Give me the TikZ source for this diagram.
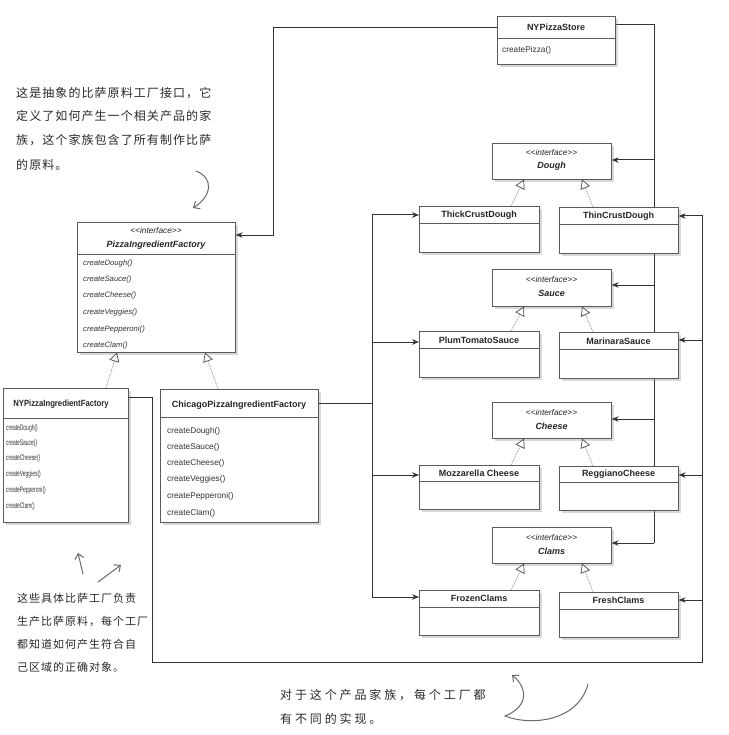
\documentclass[tikz,border=0pt]{standalone}
\usepackage{fontspec}
\setmainfont{Liberation Sans}
\newfontfamily\cjk{Noto Sans CJK SC}
\usetikzlibrary{arrows.meta,shadows}
\definecolor{linec}{HTML}{333333}
\definecolor{boxc}{HTML}{5A5A5A}
\definecolor{inkc}{HTML}{2A2A2A}
\definecolor{penc}{HTML}{6A6A6A}
\pgfdeclarelayer{bg}
\pgfdeclarelayer{paper}
\pgfsetlayers{paper,bg,main}
\newcommand\ifc{\mbox{<}\mbox{<}interface\mbox{>}\mbox{>}}
\begin{document}
\begin{tikzpicture}[x=1pt,y=-1pt,
  cls/.style={draw=boxc,line width=0.6pt,fill=white,inner sep=0pt,anchor=north west,
    drop shadow={shadow xshift=2.5pt,shadow yshift=-2.5pt,opacity=0.3}},
  divl/.style={draw=boxc,line width=0.5pt},
  ttl/.style={font=\fontsize{9}{10}\selectfont\bfseries,text=black!85,inner sep=0pt},
  iface/.style={font=\fontsize{8.3}{10}\selectfont\itshape,text=black!85,inner sep=0pt},
  iname/.style={font=\fontsize{9}{10}\selectfont\bfseries\itshape,text=black!85,inner sep=0pt},
  meth/.style={font=\fontsize{8.3}{10}\selectfont,text=black!80,anchor=west,inner sep=0pt},
  imeth/.style={font=\fontsize{7.7}{10}\selectfont\itshape,text=black!80,anchor=west,inner sep=0pt},
  nymeth/.style={font=\fontsize{8}{10}\selectfont,text=black!80,anchor=west,inner sep=0pt,xscale=0.62},
  conn/.style={draw=linec,line width=1pt,-{Stealth[length=7pt,width=5.5pt]}},
  wire/.style={draw=linec,line width=1pt},
  gen/.style={draw=black!45,densely dotted,line width=0.8pt,
    -{Triangle[open,length=9pt,width=10pt,color=black!70,line width=0.7pt]}},
  hand/.style={draw=penc,line width=1pt,line cap=round,-{Straight Barb[length=5pt,width=9pt]}},
  note/.style={font=\cjk\fontsize{12}{14}\selectfont\addfontfeature{LetterSpace=9},text=inkc,anchor=west,inner sep=0pt}]

\useasboundingbox (0,0) rectangle (728,735);
\begin{pgfonlayer}{paper}
\fill[white] (0,0) rectangle (728,735);
\end{pgfonlayer}

% ---------- class boxes ----------
\node[cls,minimum width=118pt,minimum height=48pt] (nystore) at (497,16) {};
\node[cls,minimum width=158pt,minimum height=130pt] (pif) at (77,222) {};
\node[cls,minimum width=125pt,minimum height=134pt] (nyif) at (3,388) {};
\node[cls,minimum width=158pt,minimum height=133pt] (chif) at (160,389) {};
\node[cls,minimum width=119pt,minimum height=36pt] (dough) at (492,143) {};
\node[cls,minimum width=120pt,minimum height=46pt] (thick) at (419,206) {};
\node[cls,minimum width=119pt,minimum height=46pt] (thin) at (559,207) {};
\node[cls,minimum width=119pt,minimum height=37pt] (sauce) at (492,269) {};
\node[cls,minimum width=120pt,minimum height=46pt] (plum) at (419,331) {};
\node[cls,minimum width=119pt,minimum height=46pt] (marinara) at (559,332) {};
\node[cls,minimum width=119pt,minimum height=36pt] (cheese) at (492,402) {};
\node[cls,minimum width=120pt,minimum height=44pt] (mozz) at (419,465) {};
\node[cls,minimum width=119pt,minimum height=44pt] (reggiano) at (559,466) {};
\node[cls,minimum width=119pt,minimum height=36pt] (clams) at (492,527) {};
\node[cls,minimum width=120pt,minimum height=45pt] (frozen) at (419,590) {};
\node[cls,minimum width=119pt,minimum height=45pt] (fresh) at (559,592) {};

% dividers
\draw[divl] (nystore.west |- 0,38) -- (nystore.east |- 0,38);
\draw[divl] (pif.west |- 0,254) -- (pif.east |- 0,254);
\draw[divl] (nyif.west |- 0,418) -- (nyif.east |- 0,418);
\draw[divl] (chif.west |- 0,417) -- (chif.east |- 0,417);
\draw[divl] (thick.west |- 0,223) -- (thick.east |- 0,223);
\draw[divl] (thin.west |- 0,224) -- (thin.east |- 0,224);
\draw[divl] (plum.west |- 0,348) -- (plum.east |- 0,348);
\draw[divl] (marinara.west |- 0,349) -- (marinara.east |- 0,349);
\draw[divl] (mozz.west |- 0,481) -- (mozz.east |- 0,481);
\draw[divl] (reggiano.west |- 0,482) -- (reggiano.east |- 0,482);
\draw[divl] (frozen.west |- 0,607) -- (frozen.east |- 0,607);
\draw[divl] (fresh.west |- 0,609) -- (fresh.east |- 0,609);

% titles
\node[ttl] (nystore-t) at (556,27) {NYPizzaStore};
\node[meth] (nystore-m) at (502,50) {createPizza()};

\node[iface] (pif-s) at (156,231) {\ifc};
\node[iname] (pif-t) at (156,245) {PizzaIngredientFactory};
\node[imeth] (pif-1) at (83,264) {createDough()};
\node[imeth] (pif-2) at (83,280) {createSauce()};
\node[imeth] (pif-3) at (83,296) {createCheese()};
\node[imeth] (pif-4) at (83,313) {createVeggies()};
\node[imeth] (pif-5) at (83,330) {createPepperoni()};
\node[imeth] (pif-6) at (83,346) {createClam()};

\node[ttl,xscale=0.86] (nyif-t) at (61,404) {NYPizzaIngredientFactory};
\node[nymeth] (nyif-1) at (6,428) {createDough()};
\node[nymeth] (nyif-2) at (6,443) {createSauce()};
\node[nymeth] (nyif-3) at (6,458) {createCheese()};
\node[nymeth] (nyif-4) at (6,474) {createVeggies()};
\node[nymeth] (nyif-5) at (6,490) {createPepperoni()};
\node[nymeth] (nyif-6) at (6,506) {createClam()};

\node[ttl] (chif-t) at (239,405) {ChicagoPizzaIngredientFactory};
\node[meth] (chif-1) at (167,431) {createDough()};
\node[meth] (chif-2) at (167,447) {createSauce()};
\node[meth] (chif-3) at (167,463) {createCheese()};
\node[meth] (chif-4) at (167,479) {createVeggies()};
\node[meth] (chif-5) at (167,496) {createPepperoni()};
\node[meth] (chif-6) at (167,513) {createClam()};

\node[iface] (dough-s) at (551.5,153) {\ifc};
\node[iname] (dough-t) at (551.5,166) {Dough};
\node[ttl] (thick-t) at (479,215) {ThickCrustDough};
\node[ttl] (thin-t) at (618.5,216) {ThinCrustDough};

\node[iface] (sauce-s) at (551.5,280) {\ifc};
\node[iname] (sauce-t) at (551.5,293) {Sauce};
\node[ttl] (plum-t) at (479,340) {PlumTomatoSauce};
\node[ttl] (marinara-t) at (618.5,341) {MarinaraSauce};

\node[iface] (cheese-s) at (551.5,413) {\ifc};
\node[iname] (cheese-t) at (551.5,426) {Cheese};
\node[ttl] (mozz-t) at (479,473) {Mozzarella Cheese};
\node[ttl] (reggiano-t) at (618.5,474) {ReggianoCheese};

\node[iface] (clams-s) at (551.5,538) {\ifc};
\node[iname] (clams-t) at (551.5,551) {Clams};
\node[ttl] (frozen-t) at (479,598) {FrozenClams};
\node[ttl] (fresh-t) at (618.5,600) {FreshClams};

% ---------- connectors ----------
\begin{pgfonlayer}{bg}
\draw[wire] (nystore.east |- 0,25) -| (654,543);
\end{pgfonlayer}
\draw[conn] (654,543) -- (clams.east |- 0,543);
\draw[conn] (654,160) -- (dough.east |- 0,160);
\draw[conn] (654,285) -- (sauce.east |- 0,285);
\draw[conn] (654,419) -- (cheese.east |- 0,419);

\draw[conn] (nystore.west |- 0,28) -| (273,235) -- (pif.east |- 0,235);

\draw[wire] (chif.east |- 0,403) -- (372,403);
\draw[wire] (372,215) -- (372,597);
\draw[conn] (372,215) -- (thick.west |- 0,215);
\draw[conn] (372,342) -- (plum.west |- 0,342);
\draw[conn] (372,475) -- (mozz.west |- 0,475);
\draw[conn] (372,597) -- (frozen.west |- 0,597);

\draw[conn] (nyif.east |- 0,397) -| (152,662) -| (702,216) -- (thin.east |- 0,216);
\draw[conn] (702,340) -- (marinara.east |- 0,340);
\draw[conn] (702,475) -- (reggiano.east |- 0,475);
\draw[conn] (702,600) -- (fresh.east |- 0,600);

% generalizations
\draw[gen] (thick.north -| 511,0) -- (dough.south -| 524,0);
\draw[gen] (thin.north -| 593,0) -- (dough.south -| 582,0);
\draw[gen] (plum.north -| 511,0) -- (sauce.south -| 524,0);
\draw[gen] (marinara.north -| 593,0) -- (sauce.south -| 582,0);
\draw[gen] (mozz.north -| 511,0) -- (cheese.south -| 524,0);
\draw[gen] (reggiano.north -| 593,0) -- (cheese.south -| 582,0);
\draw[gen] (frozen.north -| 511,0) -- (clams.south -| 524,0);
\draw[gen] (fresh.north -| 593,0) -- (clams.south -| 582,0);
\draw[gen] (nyif.north -| 106,0) -- (pif.south -| 117,0);
\draw[gen] (chif.north -| 218,0) -- (pif.south -| 205,0);

% ---------- handwritten notes ----------
\node[note] (n1a) at (16,93) {这是抽象的比萨原料工厂接口，它};
\node[note] (n1b) at (16,116) {定义了如何产生一个相关产品的家};
\node[note] (n1c) at (16,140) {族，这个家族包含了所有制作比萨};
\node[note] (n1d) at (16,165) {的原料。};

\node[note,font=\cjk\fontsize{11}{13}\selectfont\addfontfeature{LetterSpace=9}] (n2a) at (17,598) {这些具体比萨工厂负责};
\node[note,font=\cjk\fontsize{11}{13}\selectfont\addfontfeature{LetterSpace=9}] (n2b) at (17,621) {生产比萨原料，每个工厂};
\node[note,font=\cjk\fontsize{11}{13}\selectfont\addfontfeature{LetterSpace=9}] (n2c) at (17,644) {都知道如何产生符合自};
\node[note,font=\cjk\fontsize{11}{13}\selectfont\addfontfeature{LetterSpace=9}] (n2d) at (17,667) {己区域的正确对象。};

\node[note,font=\cjk\fontsize{12}{14}\selectfont\addfontfeature{LetterSpace=24}] (n3a) at (280,695) {对于这个产品家族，每个工厂都};
\node[note,font=\cjk\fontsize{12}{14}\selectfont\addfontfeature{LetterSpace=24}] (n3b) at (280,719) {有不同的实现。};

\coordinate (h1s) at (196,171);
\coordinate (h1e) at (193,208);
\draw[hand] (h1s) .. controls (214,178) and (212,196) .. (h1e);
\coordinate (h2s) at (83,574);
\coordinate (h2e) at (78,553);
\draw[hand] (h2s) -- (h2e);
\coordinate (h3s) at (98,582);
\coordinate (h3e) at (121,565);
\draw[hand] (h3s) -- (h3e);
\coordinate (h4s) at (588,684);
\coordinate (h4e) at (512,675);
\draw[hand] (h4s) .. controls (578,722) and (530,726) .. (505,716) .. controls (526,708) and (530,690) .. (h4e);
\end{tikzpicture}
\end{document}
